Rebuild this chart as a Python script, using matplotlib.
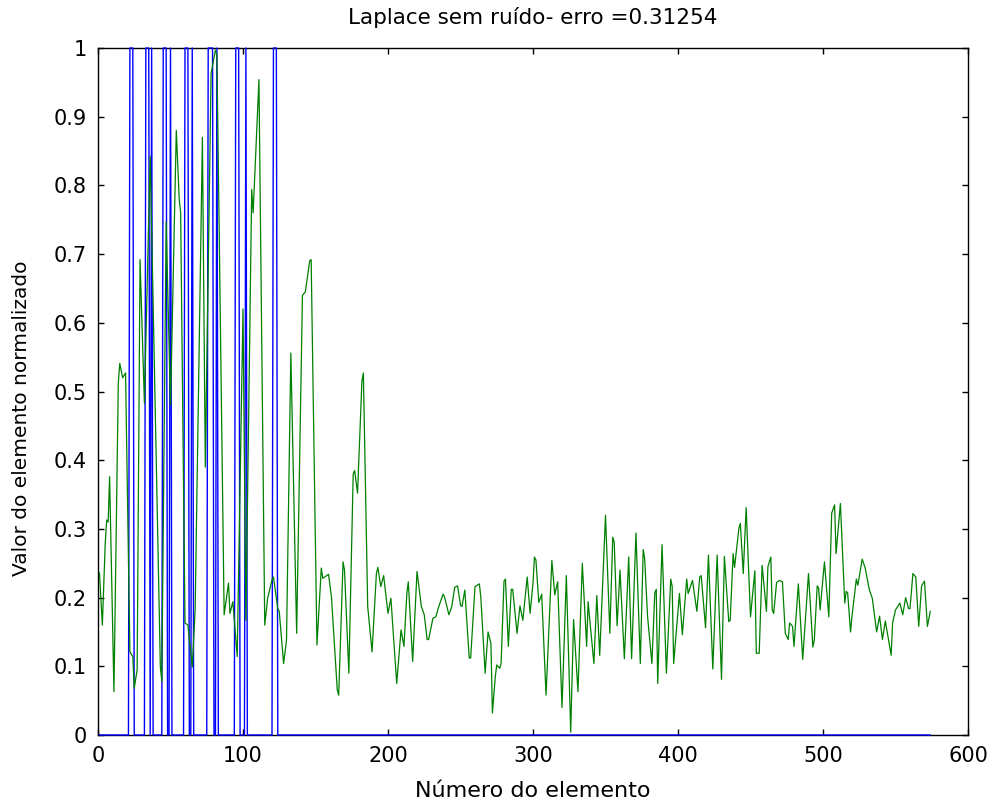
import matplotlib
matplotlib.use("Agg")
import matplotlib.pyplot as plt
import numpy as np

plt.rcParams['font.family'] = ['DejaVu Sans']

# Normalised element values (element number, value)
green_x = [1, 3, 5, 6, 7, 8, 11, 14, 15, 17, 19, 22, 24, 25, 27, 29, 32, 36, 43, 44,
           47, 50, 54, 56, 57, 60, 62, 65, 67, 72, 74, 78, 81, 82, 87, 90, 91, 93, 96, 100,
           102, 106, 107, 111, 115, 117, 120, 121, 124, 125, 128, 130, 133, 137, 141, 143, 146, 147, 151, 154,
           155, 159, 161, 165, 166, 169, 170, 173, 176, 177, 179, 182, 183, 186, 189, 192, 193, 195, 197, 200,
           202, 206, 209, 211, 213, 214, 217, 220, 223, 225, 227, 228, 231, 233, 235, 238, 239, 242, 244, 246,
           248, 250, 251, 253, 256, 257, 260, 263, 264, 267, 269, 271, 272, 274, 275, 277, 278, 280, 281, 283,
           285, 286, 289, 291, 293, 296, 298, 300, 301, 302, 304, 306, 309, 313, 315, 317, 320, 323, 326, 328,
           331, 334, 337, 338, 342, 344, 346, 350, 353, 355, 356, 358, 360, 363, 366, 368, 371, 374, 376, 377,
           379, 382, 384, 385, 386, 389, 392, 395, 396, 397, 401, 403, 406, 407, 410, 413, 415, 416, 419, 421,
           424, 427, 430, 432, 435, 436, 438, 439, 442, 443, 445, 447, 450, 453, 454, 456, 458, 461, 462, 464,
           465, 466, 468, 470, 472, 474, 476, 477, 479, 480, 483, 486, 490, 493, 494, 496, 497, 498, 501, 504,
           506, 508, 509, 512, 515, 516, 517, 519, 520, 523, 524, 525, 527, 529, 532, 534, 537, 539, 541, 543,
           547, 548, 550, 553, 555, 557, 559, 560, 562, 564, 566, 568, 570, 572, 574]
green_y = [0.236, 0.160, 0.280, 0.313, 0.310, 0.376, 0.063, 0.512, 0.541, 0.520, 0.527, 0.121, 0.114, 0.068, 0.095, 0.692, 0.483, 0.842, 0.099, 0.078,
           0.746, 0.480, 0.880, 0.780, 0.760, 0.163, 0.160, 0.099, 0.182, 0.870, 0.390, 0.963, 0.997, 0.990, 0.175, 0.221, 0.177, 0.194, 0.114, 0.620,
           0.167, 0.794, 0.760, 0.954, 0.160, 0.199, 0.226, 0.230, 0.184, 0.180, 0.104, 0.138, 0.556, 0.148, 0.640, 0.645, 0.690, 0.692, 0.131, 0.243,
           0.228, 0.234, 0.201, 0.066, 0.058, 0.252, 0.240, 0.090, 0.380, 0.385, 0.352, 0.515, 0.527, 0.187, 0.121, 0.235, 0.244, 0.216, 0.232, 0.177,
           0.199, 0.075, 0.153, 0.129, 0.206, 0.223, 0.107, 0.238, 0.187, 0.175, 0.139, 0.139, 0.170, 0.172, 0.187, 0.205, 0.201, 0.175, 0.187, 0.215,
           0.217, 0.189, 0.187, 0.211, 0.112, 0.112, 0.216, 0.220, 0.201, 0.090, 0.150, 0.133, 0.032, 0.085, 0.102, 0.097, 0.104, 0.224, 0.227, 0.129,
           0.212, 0.212, 0.148, 0.188, 0.167, 0.230, 0.177, 0.221, 0.259, 0.255, 0.193, 0.205, 0.058, 0.254, 0.204, 0.223, 0.040, 0.232, 0.004, 0.168,
           0.063, 0.250, 0.129, 0.194, 0.104, 0.203, 0.116, 0.320, 0.148, 0.288, 0.281, 0.159, 0.240, 0.111, 0.259, 0.111, 0.294, 0.104, 0.270, 0.257,
           0.173, 0.104, 0.207, 0.212, 0.075, 0.277, 0.090, 0.227, 0.216, 0.104, 0.206, 0.146, 0.227, 0.206, 0.225, 0.180, 0.230, 0.232, 0.156, 0.262,
           0.096, 0.262, 0.081, 0.260, 0.165, 0.167, 0.264, 0.244, 0.301, 0.308, 0.235, 0.331, 0.172, 0.239, 0.119, 0.119, 0.247, 0.180, 0.245, 0.259,
           0.182, 0.177, 0.222, 0.225, 0.223, 0.148, 0.139, 0.163, 0.158, 0.129, 0.220, 0.110, 0.235, 0.128, 0.138, 0.217, 0.214, 0.182, 0.252, 0.172,
           0.323, 0.335, 0.264, 0.337, 0.192, 0.209, 0.207, 0.150, 0.173, 0.227, 0.218, 0.230, 0.256, 0.244, 0.211, 0.199, 0.150, 0.173, 0.139, 0.166,
           0.116, 0.163, 0.182, 0.192, 0.175, 0.200, 0.184, 0.184, 0.235, 0.230, 0.158, 0.217, 0.224, 0.158, 0.180]

# Reference labels: elements flagged with 1, all others 0
n_elements = 574
blue_on = [22, 23, 24, 33, 34, 35, 37, 45, 46, 47, 50, 60, 61, 62, 65, 76, 77, 78, 79,
           82, 95, 96, 97, 102, 121, 122, 123]

x_ticks = [0, 100, 200, 300, 400, 500, 600]
y_ticks = [0, 0.1, 0.2, 0.3, 0.4, 0.5, 0.6, 0.7, 0.8, 0.9, 1]
y_tick_labels = ['0', '0.1', '0.2', '0.3', '0.4', '0.5', '0.6', '0.7', '0.8', '0.9', '1']

blue_x = np.arange(1, n_elements + 1)
blue_y = np.zeros(n_elements)
blue_y[np.array(blue_on) - 1] = 1

fig = plt.figure(figsize=(9.92, 8.05), dpi=100)
ax = fig.add_axes([98 / 992, 1 - 735 / 805, 870 / 992, 687 / 805])

ax.plot(blue_x, blue_y, color='#0000ff', lw=1.0, clip_on=False, zorder=3)
ax.plot(green_x, green_y, color='#008000', lw=0.9, zorder=4)

ax.set_xlim(0, 600)
ax.set_ylim(0, 1)
ax.set_xticks(x_ticks)
ax.set_xticklabels([str(t) for t in x_ticks])
ax.set_yticks(y_ticks)
ax.set_yticklabels(y_tick_labels)
ax.tick_params(direction='in', top=True, right=True, length=4, width=1,
               labelsize=15)
ax.tick_params(axis='x', pad=8)
ax.tick_params(axis='y', pad=8)
for s in ax.spines.values():
    s.set_linewidth(1.0)

ax.set_title('Laplace sem ruído- erro =0.31254', fontsize=15.5,
             y=(735 - 18) / 687, va='center', pad=0)
ax.set_xlabel('Número do elemento', fontsize=16, va='center')
ax.xaxis.set_label_coords(0.5, (735 - 791) / 687)
ax.set_ylabel('Valor do elemento normalizado', fontsize=14.5, va='center')
ax.yaxis.set_label_coords((22 - 98) / 870, (735 - 418) / 687)

fig.savefig('out.png', dpi=100)
